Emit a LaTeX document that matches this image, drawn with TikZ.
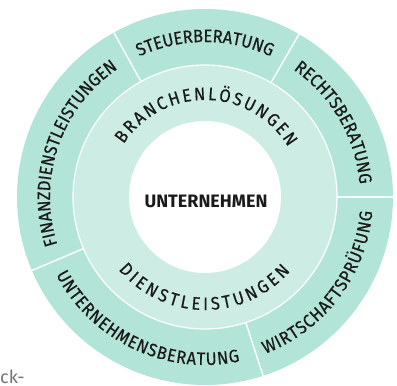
\documentclass[tikz,border=0pt]{standalone}
\usepackage{fontspec}
\setmainfont{Fira Sans}
\newfontfamily\ringfam[FakeStretch=0.92,FakeBold=0.4]{Fira Sans}
\usepackage{tikz}
\usetikzlibrary{decorations.text}

\definecolor{ringout}{RGB}{178,228,215}
\definecolor{ringin}{RGB}{205,237,228}
\definecolor{ink}{RGB}{26,26,24}
\newcommand{\ringfont}{\ringfam\fontsize{18}{18}\selectfont}

\begin{document}
\begin{tikzpicture}[x=1pt,y=1pt,
		ringtext/.style={decorate,decoration={text along path,text align=center,text color=ink,text={#1}}},
		fittext/.style={decorate,decoration={text along path,text align=fit to path,text color=ink,text={#1}}},
		divider/.style={white,line width=1.4pt}]
		\useasboundingbox (-205,-189) rectangle (192,197);
		% rings
		\fill [ringout] (0,0) circle (188);
		\fill [ringin] (0,0) circle (132);
		\draw [white,line width=1.2pt] (0,0) circle (132);
		\fill [white] (0,0) circle (76);
		% dividers of the outer ring
		\draw [divider] (119:132) -- (119:189);
		\draw [divider] (60:132) -- (60:189);
		\draw [divider] (0:132) -- (0:189);
		\draw [divider] (-72:132) -- (-72:189);
		\draw [divider] (203:132) -- (203:189);
		% outer ring texts
		\path [ringtext={|\ringfont|STEUERBERATUNG}] (135:155) arc[start angle=135,end angle=45,radius=155];
		\path [ringtext={|\ringfont|RECHTSBERATUNG}] (75:155) arc[start angle=75,end angle=-15,radius=155];
		\path [ringtext={|\ringfont|FINANZDIENSTLEISTUNGEN}] (215:155) arc[start angle=215,end angle=107,radius=155];
		\path [fittext={|\ringfont|WIRTSCHAFTSPRÜFUNG}] (-69:168) arc[start angle=-69,end angle=-5,radius=168];
		\path [fittext={|\ringfont|UNTERNEHMENSBERATUNG}] (207.5:168) arc[start angle=207.5,end angle=282,radius=168];
		% inner ring texts
		\path [fittext={|\ringfont|BRANCHENLÖSUNGEN}] (147:97) arc[start angle=147,end angle=31,radius=97];
		\path [fittext={|\ringfont|DIENSTLEISTUNGEN}] (220:113) arc[start angle=220,end angle=319,radius=113];
		% centre
		\node [text=ink,font=\bfseries\fontsize{18}{18}\selectfont] (firm) at (1,-4) {UNTERNEHMEN};
		\node [text=black!55,font=\fontsize{18}{18}\selectfont,anchor=base west,inner sep=0pt] (cut) at (-205,-186) {ck-};
\end{tikzpicture}
\end{document}
